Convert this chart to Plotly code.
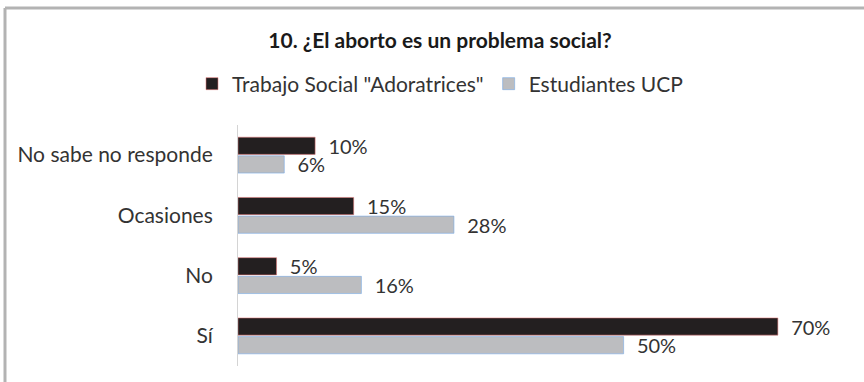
import plotly.graph_objects as go

categories = ["No sabe no responde", "Ocasiones", "No", "Sí"]
trabajo_social = [10, 15, 5, 70]
estudiantes_ucp = [6, 28, 16, 50]
series_names = ['Trabajo Social "Adoratrices"', "Estudiantes UCP"]
title_text = "10. ¿El aborto es un problema social?"

W, H = 864, 382
ML, MR, MT, MB = 238, 9, 125, 16
plot_w = W - ML - MR
plot_h = H - MT - MB

font_family = "Lato, 'Open Sans', sans-serif"
text_color = "#333333"
label_font = dict(size=20, color=text_color, family=font_family)

fig = go.Figure()
fig.add_trace(go.Bar(
    y=categories, x=trabajo_social, orientation="h", name=series_names[0],
    marker=dict(color="#231f20", line=dict(color="rgba(230,120,120,0.55)", width=1)),
    texttemplate="\u00a0\u00a0%{x}%", textposition="outside", constraintext="none",
    textfont=label_font, cliponaxis=False,
))
fig.add_trace(go.Bar(
    y=categories, x=estudiantes_ucp, orientation="h", name=series_names[1],
    marker=dict(color="#bcbdc0", line=dict(color="rgba(120,170,230,0.6)", width=1)),
    texttemplate="\u00a0\u00a0%{x}%", textposition="outside", constraintext="none",
    textfont=label_font, cliponaxis=False,
))

def px_x(x):
    return (x - ML) / plot_w

def px_y(y):
    return (H - MB - y) / plot_h

# grey frame along the top and left edges
frame = dict(color="#b3b3b3", width=3)
fig.add_shape(type="line", xref="paper", yref="paper",
              x0=px_x(5), x1=px_x(W), y0=px_y(8), y1=px_y(8), line=frame)
fig.add_shape(type="line", xref="paper", yref="paper",
              x0=px_x(5), x1=px_x(5), y0=px_y(8), y1=px_y(H), line=frame)

fig.update_layout(
    width=W, height=H,
    margin=dict(l=ML, r=MR, t=MT, b=MB),
    paper_bgcolor="white", plot_bgcolor="white",
    barmode="group", bargap=0.38, bargroupgap=0.08,
    font=dict(family=font_family, color=text_color, size=21),
    title=dict(text="<b>" + title_text + "</b>", xref="container", yref="container",
               x=440 / W, xanchor="center", y=1 - 41 / H, yanchor="middle",
               font=dict(size=21, color="#1a1a1a", family=font_family)),
    legend=dict(orientation="h", xref="container", yref="container",
                x=440 / W, xanchor="center", y=1 - 84 / H, yanchor="middle",
                font=dict(size=21, color=text_color), itemwidth=30,
                traceorder="normal", bgcolor="rgba(0,0,0,0)"),
    xaxis=dict(range=[0, 80], showgrid=False, showticklabels=False, zeroline=False,
               showline=False, fixedrange=True),
    yaxis=dict(autorange="reversed", showgrid=False, showline=True, linecolor="#d4d4d4",
               linewidth=1, ticks="", ticklabelstandoff=20,
               tickfont=dict(size=21, color=text_color)),
)

fig.write_html("out.html")
